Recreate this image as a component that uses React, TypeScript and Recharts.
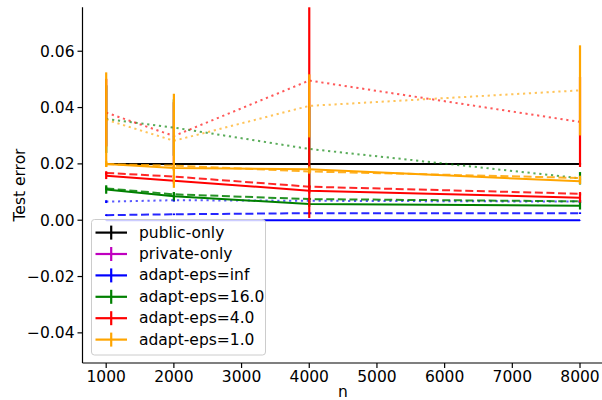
import React from 'react';
import { LineChart, Line, XAxis, YAxis, ErrorBar, Legend, Label } from 'recharts';

const N = [1000, 2000, 4000, 8000];
const xTicks = [1000, 2000, 3000, 4000, 5000, 6000, 7000, 8000];
const yTicks = [-0.04, -0.02, 0, 0.02, 0.04, 0.06];

const publicOnly = [0.02, 0.02, 0.02, 0.02];
const publicErr = [0.0002, 0.0002, 0.0002, 0.0002];

const infSolid = [0.0, 0.0, 0.0, 0.0];
const infSolidErr = [0.0001, 0.0001, 0.0001, 0.0001];
const infDashed = [0.0018, 0.0021, 0.0025, 0.0025];
const infDashedErr = [0.0003, 0.0003, 0.0003, 0.0003];
const infDotted = [0.0066, 0.0071, 0.0069, 0.0066];
const infDottedErr = [0.0005, 0.0005, 0.0005, 0.0005];

const eps16Solid = [0.0109, 0.0085, 0.0058, 0.0051];
const eps16SolidErr = [0.0015, 0.0015, 0.001, 0.0013];
const eps16Dashed = [0.0113, 0.0092, 0.0075, 0.0067];
const eps16DashedErr = [0.0006, 0.0006, 0.0005, 0.0005];
const eps16Dotted = [0.0359, 0.0329, 0.0253, 0.0149];
const eps16DottedErr = [0.012, 0.01, 0.015, 0.0022];

const eps4Solid = [0.0158, 0.014, 0.0105, 0.008];
const eps4SolidErr = [0.0012, 0.001, 0.001, 0.0017];
const eps4Dashed = [0.0168, 0.0155, 0.0119, 0.0094];
const eps4DashedErr = [0.0006, 0.0006, 0.0006, 0.0006];
const eps4Dotted = [0.0382, 0.0299, 0.0496, 0.0349];
// [below, above]; the bar at n=4000 runs past the top of the axes
const eps4DottedErr: (number | number[])[] = [0.012, 0.012, [0.0488, 0.026], 0.016];

const eps1Solid = [0.02, 0.0185, 0.0181, 0.0138];
const eps1SolidErr = [0.001, 0.001, 0.001, 0.001];
const eps1Dashed = [0.0199, 0.0194, 0.0173, 0.015];
const eps1DashedErr = [0.0008, 0.0008, 0.0008, 0.0008];
const eps1Dotted = [0.0357, 0.0282, 0.0406, 0.0461];
const eps1DottedErr = [0.0168, 0.0167, 0.0112, 0.016];

const legendLabels = ['public-only', 'private-only', 'adapt-eps=inf', 'adapt-eps=16.0', 'adapt-eps=4.0', 'adapt-eps=1.0'];
const legendColors = ['#000000', '#bf00bf', '#0000ff', '#008000', '#ff0000', '#ffa500'];

const data = N.map((n, i) => ({
  n,
  pub: publicOnly[i], pubE: publicErr[i],
  infS: infSolid[i], infSE: infSolidErr[i],
  infD: infDashed[i], infDE: infDashedErr[i],
  infT: infDotted[i], infTE: infDottedErr[i],
  g16S: eps16Solid[i], g16SE: eps16SolidErr[i],
  g16D: eps16Dashed[i], g16DE: eps16DashedErr[i],
  g16T: eps16Dotted[i], g16TE: eps16DottedErr[i],
  r4S: eps4Solid[i], r4SE: eps4SolidErr[i],
  r4D: eps4Dashed[i], r4DE: eps4DashedErr[i],
  r4T: eps4Dotted[i], r4TE: eps4DottedErr[i],
  o1S: eps1Solid[i], o1SE: eps1SolidErr[i],
  o1D: eps1Dashed[i], o1DE: eps1DashedErr[i],
  o1T: eps1Dotted[i], o1TE: eps1DottedErr[i],
}));

const DASH = '8 3.6';
const DOT = '2.2 3.7';

const series = [
  { key: 'pub', color: '#000000', dash: undefined, op: 1 },
  { key: 'infS', color: '#0000ff', dash: undefined, op: 1 },
  { key: 'infD', color: '#0000ff', dash: DASH, op: 0.85 },
  { key: 'infT', color: '#0000ff', dash: DOT, op: 0.65 },
  { key: 'g16S', color: '#008000', dash: undefined, op: 1 },
  { key: 'g16D', color: '#008000', dash: DASH, op: 0.85 },
  { key: 'g16T', color: '#008000', dash: DOT, op: 0.65 },
  { key: 'r4S', color: '#ff0000', dash: undefined, op: 1 },
  { key: 'r4D', color: '#ff0000', dash: DASH, op: 0.85 },
  { key: 'r4T', color: '#ff0000', dash: DOT, op: 0.65 },
  { key: 'o1S', color: '#ffa500', dash: undefined, op: 1 },
  { key: 'o1D', color: '#ffa500', dash: DASH, op: 0.85 },
  { key: 'o1T', color: '#ffa500', dash: DOT, op: 0.65 },
];

const FONT = 'DejaVu Sans';
const FS = 15.5;

const fmtY = (v: number) => {
  const s = Math.abs(v).toFixed(2);
  return v < -1e-9 ? '\u2212' + s : s;
};

const LegendBox = () => (
  <svg width={176} height={138} style={{ display: 'block' }}>
    <rect x={0.5} y={0.5} width={174} height={135.5} rx={3} ry={3} fill="#ffffff" fillOpacity={0.8} stroke="#cccccc" strokeWidth={1} />
    {legendLabels.map((lab, i) => {
      const cy = 13.6 + i * 21.4;
      return (
        <g key={lab}>
          <line x1={4.5} x2={36} y1={cy} y2={cy} stroke={legendColors[i]} strokeWidth={2.2} />
          <line x1={20.2} x2={20.2} y1={cy - 7} y2={cy + 7} stroke={legendColors[i]} strokeWidth={2.2} />
          <text x={48} y={cy} dominantBaseline="central" fontFamily={FONT} fontSize={FS} fill="#000">{lab}</text>
        </g>
      );
    })}
  </svg>
);

export default function App() {
  return (
    <div style={{ position: 'absolute', left: 0, top: 0, width: 602, height: 400, overflow: 'hidden', background: '#fff' }}>
      <LineChart width={612} height={400} data={data} margin={{ top: 7.3, right: 8.3, bottom: 0, left: 0 }}>
        <XAxis
          dataKey="n"
          type="number"
          domain={[650, 8350]}
          ticks={xTicks}
          allowDataOverflow
          height={37}
          tick={{ fill: '#000', fontSize: FS, fontFamily: FONT }}
          tickSize={5}
          tickMargin={3}
          axisLine={{ stroke: '#000', strokeWidth: 1.2 }}
          tickLine={{ stroke: '#000', strokeWidth: 1.2 }}
        >
          <Label
            content={() => (
              <text x={343} y={397} textAnchor="middle" fontFamily={FONT} fontSize={FS} fill="#000">n</text>
            )}
          />
        </XAxis>
        <XAxis
          xAxisId="top"
          orientation="top"
          dataKey="n"
          type="number"
          domain={[650, 8350]}
          height={0}
          tick={false}
          tickLine={false}
          axisLine={{ stroke: '#000', strokeWidth: 1.2 }}
        />
        <YAxis
          type="number"
          domain={[-0.0507, 0.0756]}
          ticks={yTicks}
          allowDataOverflow
          width={82.5}
          tickFormatter={fmtY}
          tick={{ fill: '#000', fontSize: FS, fontFamily: FONT }}
          tickSize={5}
          tickMargin={3}
          axisLine={{ stroke: '#000', strokeWidth: 1.2 }}
          tickLine={{ stroke: '#000', strokeWidth: 1.2 }}
        >
          <Label
            content={() => (
              <text x={19.5} y={185} transform="rotate(-90 19.5 185)" textAnchor="middle" dominantBaseline="central" fontFamily={FONT} fontSize={FS} fill="#000">Test error</text>
            )}
          />
        </YAxis>
        {series.map((s) => (
          <Line
            key={s.key}
            dataKey={s.key}
            stroke={s.color}
            strokeOpacity={s.op}
            strokeWidth={2}
            strokeDasharray={s.dash}
            dot={false}
            activeDot={false}
            isAnimationActive={false}
          >
            <ErrorBar dataKey={s.key + 'E'} width={0.01} stroke={s.color} strokeWidth={2.2} direction="y" />
          </Line>
        ))}
        <Legend
          layout="horizontal"
          verticalAlign="middle"
          align="center"
          content={() => <LegendBox />}
          wrapperStyle={{ position: 'absolute', left: 90.5, top: 219.3, width: 176, height: 138 }}
        />
      </LineChart>
    </div>
  );
}
